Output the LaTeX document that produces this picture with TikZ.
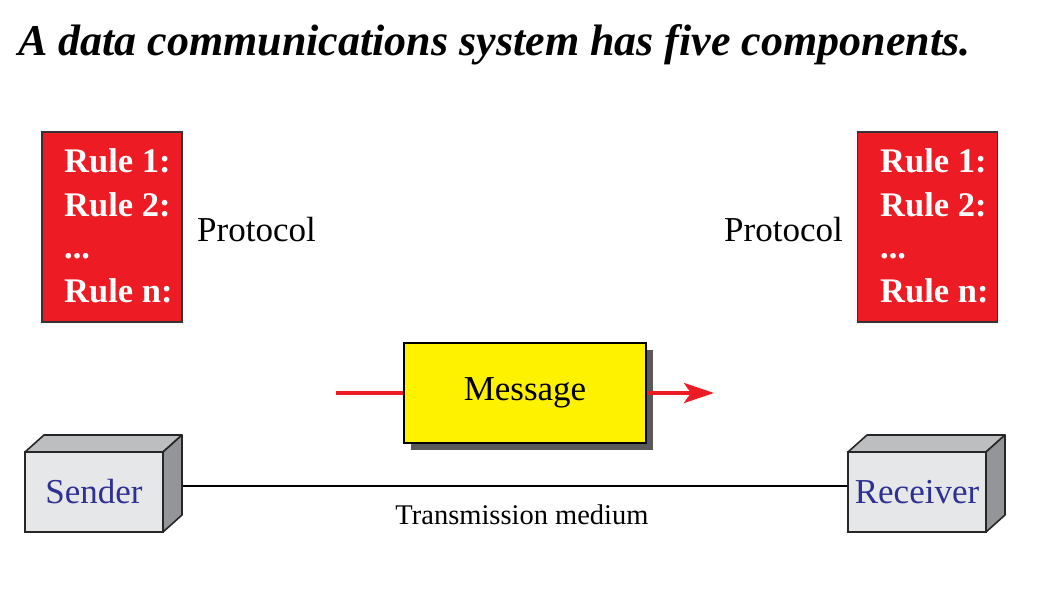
\documentclass[tikz,border=0pt]{standalone}
\usepackage{fontspec}
\setmainfont{Liberation Serif}
\usetikzlibrary{arrows.meta,calc}
\definecolor{rulered}{HTML}{ED1C24}
\definecolor{msgyellow}{HTML}{FFF200}
\definecolor{devblue}{HTML}{2E3192}
\definecolor{frontgrey}{HTML}{E6E7E8}
\definecolor{topgrey}{HTML}{BCBEC0}
\definecolor{sidegrey}{HTML}{939598}
\definecolor{shadowgrey}{HTML}{58595B}
\tikzset{
  protobox/.style={draw=black!80, line width=1.2pt, fill=rulered, minimum width=140pt, minimum height=190pt, inner sep=0pt},
  ruletext/.style={anchor=base west, text=white, font=\fontsize{34.5}{37}\selectfont\bfseries, inner sep=0pt},
  protolabel/.style={font=\fontsize{35}{38}\selectfont, inner sep=0pt},
  devfront/.style={draw=black!85, line width=1.6pt, fill=frontgrey, minimum width=138pt, minimum height=80pt, inner sep=0pt, text=devblue, font=\fontsize{35}{38}\selectfont},
  devtop/.style={draw=black!85, line width=1.6pt, fill=topgrey, line join=round},
  devside/.style={draw=black!85, line width=1.6pt, fill=sidegrey, line join=round},
  msgbox/.style={draw=black, line width=1.2pt, fill=msgyellow, minimum width=242pt, minimum height=100pt, inner sep=0pt, font=\fontsize{35}{38}\selectfont},
  redarrow/.style={draw=rulered, line width=4pt},
  medium/.style={draw=black, line width=2pt}
}
\begin{document}
\begin{tikzpicture}[x=1pt,y=-1pt]
\useasboundingbox (0,0) rectangle (1053,602);
% title
\node[anchor=base west, inner sep=0pt, font=\fontsize{44}{48}\selectfont\bfseries\itshape] (title) at (18,56) {A data communications system has five components.};
% protocols
\node[protobox] (protoL) at (112,227) {};
\node[ruletext] (l1) at (64,172) {Rule 1:};
\node[ruletext] (l2) at (64,216) {Rule 2:};
\node[ruletext] (l3) at (64,258) {...};
\node[ruletext] (l4) at (64,302) {Rule n:};
\node[protolabel, anchor=west] (protlabL) at (197,230) {Protocol};
\node[protobox] (protoR) at (927.5,227) {};
\node[ruletext] (r1) at (880,172) {Rule 1:};
\node[ruletext] (r2) at (880,216) {Rule 2:};
\node[ruletext] (r3) at (880,258) {...};
\node[ruletext] (r4) at (880,302) {Rule n:};
\node[protolabel, anchor=east] (protlabR) at (843,230) {Protocol};
% message
\fill[shadowgrey] (411,350) rectangle (653,450);
\node[msgbox] (message) at (525,393) {Message};
\coordinate (msgin) at (336,393);
\coordinate (msgout) at (714,393);
\draw[redarrow] (msgin) -- (message.west);
\draw[redarrow, -{Stealth[length=30pt,width=20pt,inset=7pt]}] (message.east) -- (msgout);
% sender
\draw[devtop] (25,452) -- (44,435) -- (182,435) -- (163,452) -- cycle;
\draw[devside] (163,452) -- (182,435) -- (182,515) -- (163,532) -- cycle;
\node[devfront] (sender) at (94,492) {Sender};
% receiver
\draw[devtop] (848,452) -- (867,435) -- (1005,435) -- (986,452) -- cycle;
\draw[devside] (986,452) -- (1005,435) -- (1005,515) -- (986,532) -- cycle;
\node[devfront] (receiver) at (917,492) {Receiver};
% medium
\coordinate (senderside) at ($(sender.east)+(19,-6)$);
\draw[medium] (senderside) -- (receiver.west |- senderside);
\node[inner sep=0pt, font=\fontsize{28.5}{32}\selectfont] (mediumlabel) at (522,515) {Transmission medium};
\end{tikzpicture}
\end{document}
